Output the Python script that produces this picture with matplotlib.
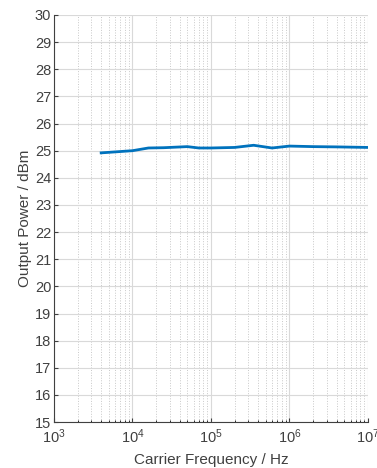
import matplotlib
matplotlib.use("Agg")
import matplotlib.pyplot as plt
from matplotlib.ticker import LogLocator, NullFormatter

plt.rcParams['font.family'] = ['Liberation Sans', 'DejaVu Sans']

# data
freq = [4e3, 1e4, 1.6e4, 2.5e4, 5e4, 7e4, 1e5, 2e5, 3.5e5, 6e5, 1e6, 2e6, 4e6, 1e7]
power = [24.92, 25.0, 25.1, 25.11, 25.15, 25.1, 25.1, 25.12, 25.2, 25.1, 25.17, 25.15, 25.14, 25.12]
yticks = list(range(15, 31))

fig = plt.figure(figsize=(3.77, 4.68), dpi=100)
ax = fig.add_axes([0.143, 0.098, 0.833, 0.870])

ax.plot(freq, power, color='#0072BD', linewidth=2)
ax.set_xscale('log')
ax.set_xlim(1e3, 1e7)
ax.set_ylim(15, 30)
ax.set_yticks(yticks)
ax.xaxis.set_minor_locator(LogLocator(base=10, subs=range(2, 10)))
ax.xaxis.set_minor_formatter(NullFormatter())

ax.grid(True, which='major', color='#d9d9d9', linewidth=0.8)
ax.grid(True, which='minor', axis='x', color='#c8c8c8', linestyle=':', linewidth=0.7)
ax.set_axisbelow(True)

for s in ['top', 'right']:
    ax.spines[s].set_visible(False)
for s in ['left', 'bottom']:
    ax.spines[s].set_color('#404040')

ax.tick_params(labelsize=10.5, colors='#404040', direction='in', length=3, pad=4)
ax.tick_params(axis='y', pad=2)
ax.tick_params(which='minor', length=1.5, direction='in')
ax.set_xlabel('Carrier Frequency / Hz', fontsize=11, color='#404040', labelpad=5)
ax.set_ylabel('Output Power / dBm', fontsize=11, color='#404040', labelpad=2)

fig.savefig('out.png', dpi=100)
